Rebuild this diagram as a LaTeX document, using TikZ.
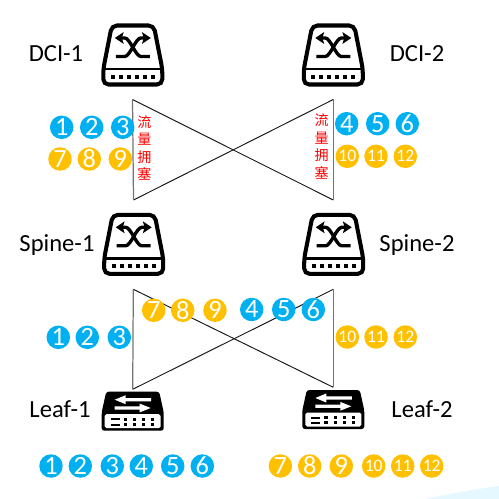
\documentclass[tikz,border=0pt]{standalone}
\usepackage{fontspec}
\setmainfont{Carlito}
\newfontfamily\cjk{Noto Sans CJK SC}
\usepackage{xcolor}
\usetikzlibrary{arrows.meta,positioning,calc}
\definecolor{bluebadge}{HTML}{00B0F0}
\definecolor{amberbadge}{HTML}{FFC000}

\begin{document}
\begin{tikzpicture}[x=0.02cm,y=-0.02cm,
  link/.style={black!90,line width=0.55pt},
  uplink/.style={black!55,line width=0.7pt},
  devlabel/.style={font=\fontsize{14}{16}\selectfont,inner sep=0pt},
  badge/.style={circle,inner sep=0pt,minimum size=0.47cm,text=white},
  jam/.style={red,font=\cjk\fontsize{8}{9.9}\selectfont,align=center,inner sep=0pt},
  corearrow/.style={line width=1.9pt,{Stealth[length=5pt,width=6.6pt,inset=1pt]}-},
  switchicon/.pic={
    \draw[line width=2.3pt,rounded corners=3pt] (-21,-29.5) -- (21,-29.5) -- (29.5,14) -- (29.5,29.5) -- (-29.5,29.5) -- (-29.5,14) -- cycle;
    \draw[line width=1.6pt] (-29.5,14) -- (29.5,14);
    \foreach \dx in {-20,-12,-4,4,12,20}
      \fill (\dx-2,19.8) rectangle (\dx+2,24.2);
    \draw[corearrow] (-18,-17) -- (-8,-17) .. controls (-3,-17) and (3,1.5) .. (8,1.5) -- (17,1.5);
    \draw[corearrow] (18,-17) -- (8,-17) .. controls (3,-17) and (-3,1.5) .. (-8,1.5) -- (-17,1.5);
  },
  leaficon/.pic={
    \fill[rounded corners=1.5pt] (-26.5,-19.5) -- (26.5,-19.5) -- (31,1) -- (31,19.5) -- (-31,19.5) -- (-31,1) -- cycle;
    \fill[white,rounded corners=1pt] (-28,3) rectangle (28,17);
    \fill[white] (18.5,-13.2) -- (-7,-13.2) -- (-7,-16) -- (-18,-11.5) -- (-7,-7) -- (-7,-9.8) -- (18.5,-9.8) -- cycle;
    \fill[white] (-18,-4.8) -- (7,-4.8) -- (7,-7.6) -- (18,-3.2) -- (7,1.2) -- (7,-1.6) -- (-18,-1.6) -- cycle;
    \foreach \dy in {8,13.3} {
      \fill (-22,\dy-1) rectangle (-13,\dy+1);
      \foreach \dx in {-7.5,2,11,20}
        \fill (\dx-1.7,\dy-1.4) rectangle (\dx+1.7,\dy+1.4);
    }
  }]
  \useasboundingbox (0,0) rectangle (499,499);
  % pale corner
  \fill[blue!30!cyan!10] (424,499) .. controls (450,494) and (475,489) .. (499,486) -- (499,499) -- cycle;

  \coordinate (dcitl) at (132.5,99.5);
  \coordinate (dcibl) at (133.5,200);
  \coordinate (dcitr) at (333.3,99.5);
  \coordinate (dcibr) at (333.3,200);
  \coordinate (spinetl) at (133.3,289.3);
  \coordinate (spinebl) at (132.7,389.3);
  \coordinate (spinetr) at (333.3,289.3);
  \coordinate (spinebr) at (333.3,387.3);

  \draw[link] (dcitl) -- (dcibr);
  \draw[link] (dcibl) -- (dcitr);
  \draw[uplink] (dcitl) -- (dcibl);
  \draw[uplink] (dcitr) -- (dcibr);
  \draw[link] (spinetl) -- (spinebr);
  \draw[link] (spinebl) -- (spinetr);
  \draw[uplink] (spinetl) -- (spinebl);
  \draw[uplink] (spinetr) -- (spinebr);

  \pic at (132.8,55) {switchicon};
  \pic at (333.3,55) {switchicon};
  \pic at (133.7,244.3) {switchicon};
  \pic at (333.7,244.3) {switchicon};
  \pic at (132.7,411.2) {leaficon};
  \pic at (333.3,409.5) {leaficon};

  \node[devlabel] (dci1) at (56,53.5) {DCI-1};
  \node[devlabel] (dci2) at (417,53.5) {DCI-2};
  \node[devlabel] (spine1) at (57,245) {Spine-1};
  \node[devlabel] (spine2) at (417,245) {Spine-2};
  \node[devlabel] (leaf1) at (60,409.5) {Leaf-1};
  \node[devlabel] (leaf2) at (422,409.5) {Leaf-2};

  \node[jam] (jam1) at (144.5,148) {流\\量\\拥\\塞};
  \node[jam] (jam2) at (321.7,146.5) {流\\量\\拥\\塞};

  % name/x/y/number
  \foreach \n/\x/\y/\t in {a1/61.7/127.3/1,a2/91.7/127.3/2,a3/122.7/127.3/3,
      b4/346.7/123.7/4,b5/377.7/123.7/5,b6/407.3/123.7/6,
      c1/58.3/337.3/1,c2/87.3/337.3/2,c3/119.3/337.3/3,
      d4/251.7/309.5/4,d5/283.7/309.5/5,d6/313.3/309.5/6,
      e1/51/466/1,e2/80.3/466/2,e3/112.3/466/3,e4/141.3/466/4,e5/172.7/466/5,e6/202.3/466/6}
    \node[badge,fill=bluebadge,font=\fontsize{15}{15}\selectfont] (\n) at (\x,\y) {\t};
  \foreach \n/\x/\y/\t in {a7/60/159/7,a8/89.3/159/8,a9/120.3/159/9,
      d7/153.7/310.3/7,d8/182.7/310.3/8,d9/215/310.3/9,
      f7/280.3/466/7,f8/309.7/466/8,f9/341.3/466/9}
    \node[badge,fill=amberbadge,font=\fontsize{15}{15}\selectfont] (\n) at (\x,\y) {\t};
  \foreach \n/\x/\y/\t in {b10/347.3/156.3/10,b11/376/156.3/11,b12/405.3/156.3/12,
      c10/347.3/337/10,c11/376/337/11,c12/405.3/337/12,
      f10/373.7/466/10,f11/402.7/466/11,f12/431.7/466/12}
    \node[badge,fill=amberbadge,font=\fontsize{10}{10}\selectfont] (\n) at (\x,\y) {\t};
\end{tikzpicture}
\end{document}
